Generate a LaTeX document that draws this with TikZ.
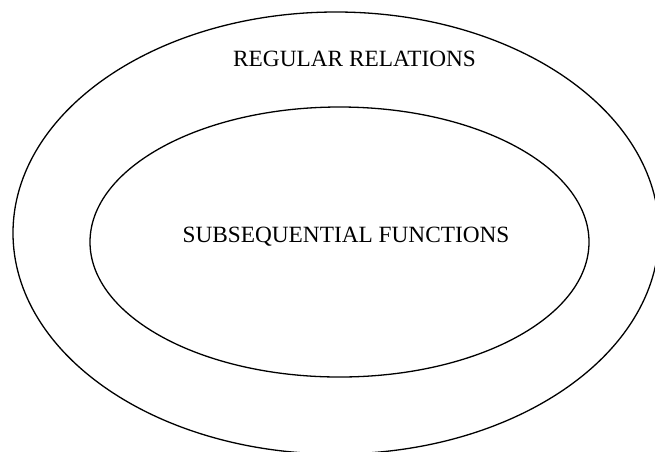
\documentclass[tikz,border=0pt]{standalone}
\usepackage{fontspec}
\setmainfont{Liberation Serif}
\begin{document}
\begin{tikzpicture}[x=1pt,y=-1pt,
  setline/.style={draw=black,line width=1.3pt},
  setlabel/.style={anchor=base,inner sep=0pt,font=\fontsize{23.3}{28}\selectfont}]
\useasboundingbox (0,0) rectangle (655,451);
\begin{scope}
  \clip (0,0) rectangle (655,451);
  % regular relations (outer set)
  \draw[setline] (336,233) ellipse [x radius=323, y radius=221];
  % subsequential functions (inner set)
  \draw[setline] (339.5,242) ellipse [x radius=249.5, y radius=135];
\end{scope}
\node[setlabel] (rr) at (354.5,66) {REGULAR RELATIONS};
\node[setlabel] (sf) at (346,242) {SUBSEQUENTIAL FUNCTIONS};
\end{tikzpicture}
\end{document}
